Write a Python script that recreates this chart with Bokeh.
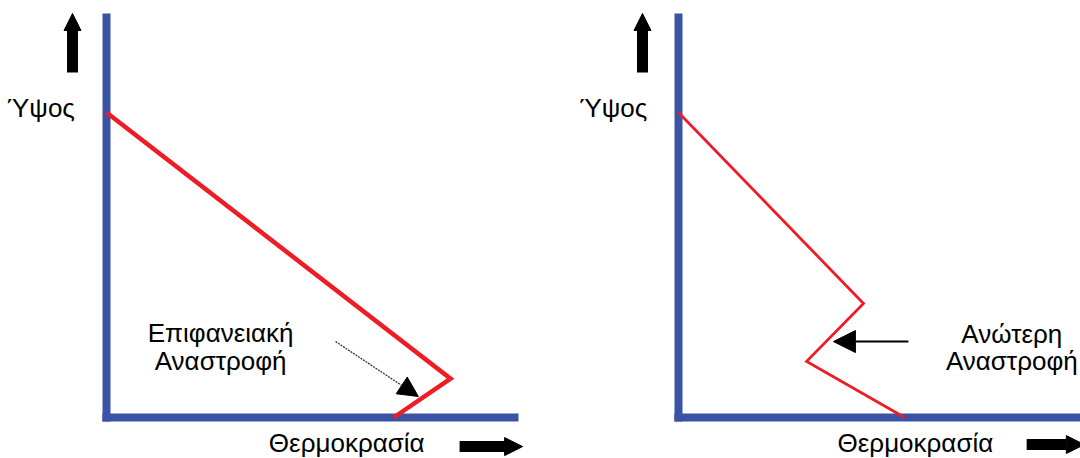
from bokeh.plotting import figure
from bokeh.layouts import row
from bokeh.models import Range1d, Arrow, NormalHead
from bokeh.core.properties import value
from bokeh.embed import file_html
from bokeh.resources import INLINE

# Temperature profiles: temperature (x) and height (y), both in percent of axis length
surface_temp = [0, 83.5, 69.7]
surface_height = [75.5, 9.6, 0]

upper_temp = [0, 44.9, 31.1, 54.9]
upper_height = [75.5, 28.2, 13.9, 0]

# Axis extents (percent)
axis_start = -1
axis_end = 100
upper_axis_end = 110

# Texts
y_title = "Ύψος"
x_title = "Θερμοκρασία"
surface_label = ["Επιφανειακή", "Αναστροφή"]
upper_label = ["Ανώτερη", "Αναστροφή"]

BLUE = "#3a53a4"
RED = "#ee1c25"
FONT = value("Liberation Sans")
FONT_SIZE = "26px"

PANEL_W, PANEL_H = 540, 458
PX_X, PX_Y = 4.12, 4.04  # pixels per percent


def make_panel(origin_x, origin_y):
    x0 = -origin_x / PX_X
    x1 = (PANEL_W - origin_x) / PX_X
    y0 = -(PANEL_H - origin_y) / PX_Y
    y1 = origin_y / PX_Y
    p = figure(width=PANEL_W, height=PANEL_H,
               x_range=Range1d(x0, x1), y_range=Range1d(y0, y1),
               x_axis_type=None, y_axis_type=None,
               toolbar_location=None, output_backend="svg",
               min_border=0, outline_line_color=None,
               background_fill_color="white", border_fill_color="white")
    p.grid.visible = False
    return p


def draw_axes(p, x_end):
    p.segment(x0=[0, axis_start], y0=[axis_start, 0], x1=[0, x_end], y1=[axis_end, 0],
              line_color=BLUE, line_width=8, line_cap="butt")


def block_arrow(p, xs, ys, xe, ye, width, head):
    p.add_layout(Arrow(x_start=xs, y_start=ys, x_end=xe, y_end=ye,
                       line_color="black", line_width=width,
                       end=NormalHead(size=head, fill_color="black", line_color="black", line_width=1)))


def labels(p, xs, ys, texts):
    p.text(x=xs, y=ys, text=texts, text_font=FONT, text_font_size=FONT_SIZE,
           text_align="center", text_baseline="alphabetic", text_color="black")


# Surface inversion
left = make_panel(106, 417)
draw_axes(left, axis_end)
left.line(surface_temp, surface_height, line_color=RED, line_width=4.5, line_join="miter")
block_arrow(left, -8.25, 85.4, -8.25, 100, 11, 17)
block_arrow(left, 85.7, -7.2, 101, -7.2, 11, 18)
left.add_layout(Arrow(x_start=55.6, y_start=18.8, x_end=75.7, y_end=5.2,
                      line_color="#333333", line_width=1.3, line_dash="2 1",
                      end=NormalHead(size=20, fill_color="black", line_color="black", line_width=1)))
labels(left, [-15.9, 58.3, 27.7, 27.7], [76.6, -6.3, 20.8, 14.1],
       [y_title, x_title] + surface_label)

# Upper-level inversion
right = make_panel(138, 417)
draw_axes(right, upper_axis_end)
right.line(upper_temp, upper_height, line_color=RED, line_width=2.8, line_join="miter")
block_arrow(right, -8.74, 85.4, -8.74, 100, 11, 17)
block_arrow(right, 84.5, -6.7, 98.5, -6.7, 11, 18)
right.add_layout(Arrow(x_start=55.8, y_start=18.8, x_end=37.6, y_end=18.8,
                       line_color="black", line_width=2,
                       end=NormalHead(size=22, fill_color="black", line_color="black", line_width=1)))
labels(right, [-15.8, 57.5, 80.9, 80.9], [76.6, -6.3, 20.6, 14.1],
       [y_title, x_title] + upper_label)

layout = row(left, right, spacing=0)
open("out.html", "w").write(file_html(layout, INLINE))
